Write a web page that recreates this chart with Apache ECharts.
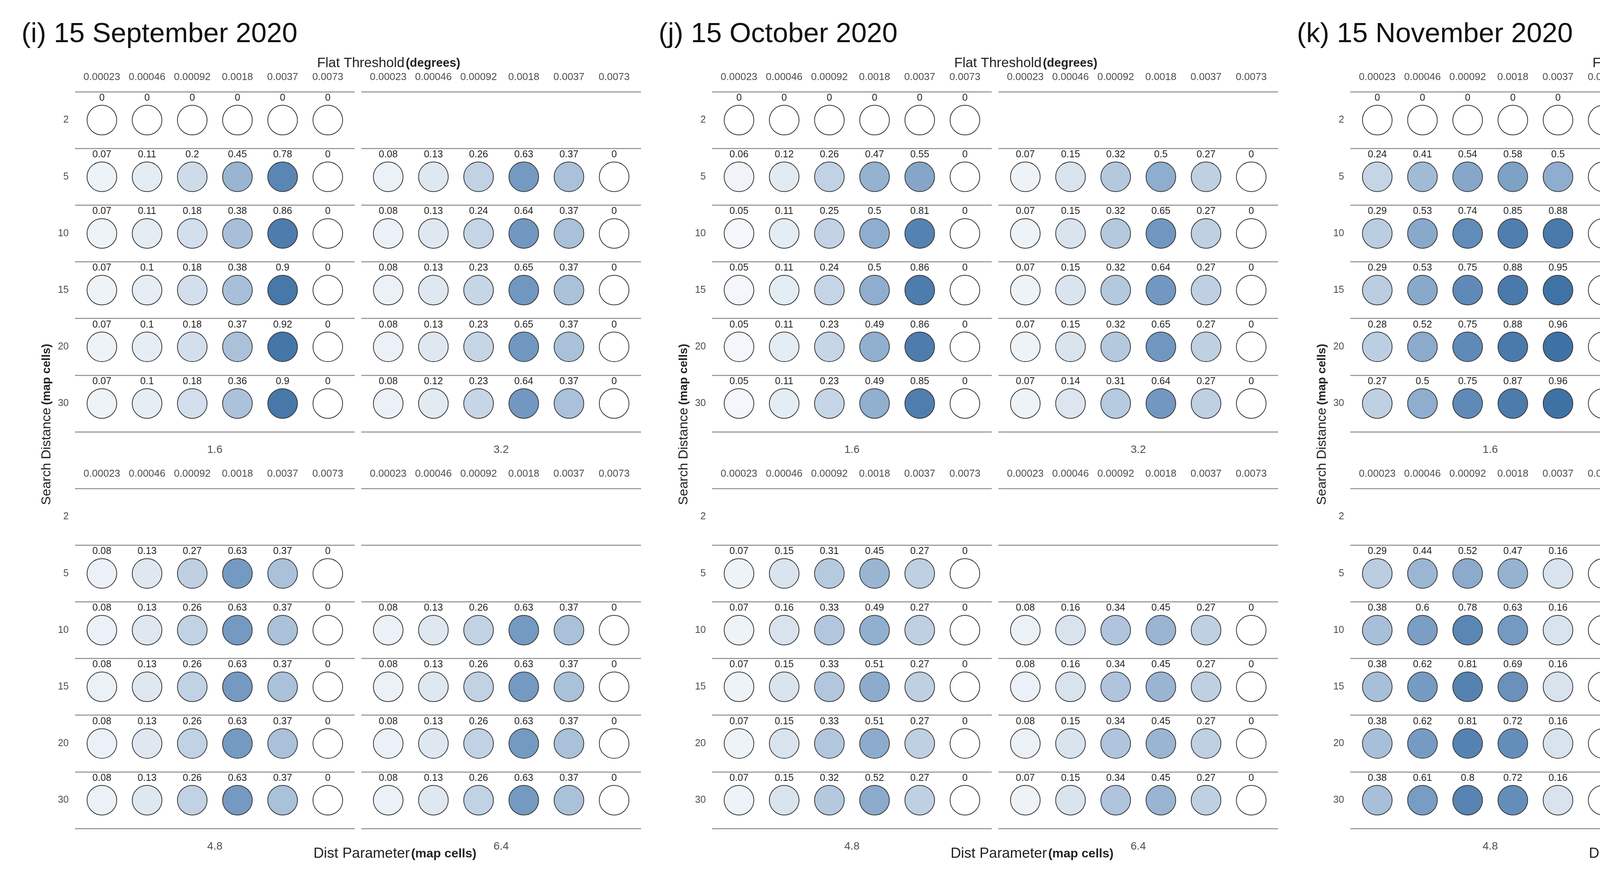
<!DOCTYPE html>
<html>
<head>
<meta charset="utf-8">
<script src="https://cdn.jsdelivr.net/npm/echarts@6/dist/echarts.min.js"></script>
<style>
html,body{margin:0;padding:0;background:#fff;}
#chart{width:5224px;height:2259px;}
</style>
</head>
<body>
<div id="chart"></div>
<script>
// ---------- data ----------
const flatThresholds = ['0.00023', '0.00046', '0.00092', '0.0018', '0.0037', '0.0073'];
const searchDistances = ['2', '5', '10', '15', '20', '30'];
const distParams = ['1.6', '3.2', '4.8', '6.4'];
const panelTitles = ['(i) 15 September 2020', '(j) 15 October 2020', '(k) 15 November 2020'];
const legendTicks = [0, 0.25, 0.5, 0.75, 1.0];

// rows follow searchDistances; null = row not present
const sep16 = [[0,0,0,0,0,0],[0.07,0.11,0.2,0.45,0.78,0],[0.07,0.11,0.18,0.38,0.86,0],[0.07,0.1,0.18,0.38,0.9,0],[0.07,0.1,0.18,0.37,0.92,0],[0.07,0.1,0.18,0.36,0.9,0]];
const sep32 = [null,[0.08,0.13,0.26,0.63,0.37,0],[0.08,0.13,0.24,0.64,0.37,0],[0.08,0.13,0.23,0.65,0.37,0],[0.08,0.13,0.23,0.65,0.37,0],[0.08,0.12,0.23,0.64,0.37,0]];
const sep48 = [null,[0.08,0.13,0.27,0.63,0.37,0],[0.08,0.13,0.26,0.63,0.37,0],[0.08,0.13,0.26,0.63,0.37,0],[0.08,0.13,0.26,0.63,0.37,0],[0.08,0.13,0.26,0.63,0.37,0]];
const sep64 = [null,null,[0.08,0.13,0.26,0.63,0.37,0],[0.08,0.13,0.26,0.63,0.37,0],[0.08,0.13,0.26,0.63,0.37,0],[0.08,0.13,0.26,0.63,0.37,0]];

const oct16 = [[0,0,0,0,0,0],[0.06,0.12,0.26,0.47,0.55,0],[0.05,0.11,0.25,0.5,0.81,0],[0.05,0.11,0.24,0.5,0.86,0],[0.05,0.11,0.23,0.49,0.86,0],[0.05,0.11,0.23,0.49,0.85,0]];
const oct32 = [null,[0.07,0.15,0.32,0.5,0.27,0],[0.07,0.15,0.32,0.65,0.27,0],[0.07,0.15,0.32,0.64,0.27,0],[0.07,0.15,0.32,0.65,0.27,0],[0.07,0.14,0.31,0.64,0.27,0]];
const oct48 = [null,[0.07,0.15,0.31,0.45,0.27,0],[0.07,0.16,0.33,0.49,0.27,0],[0.07,0.15,0.33,0.51,0.27,0],[0.07,0.15,0.33,0.51,0.27,0],[0.07,0.15,0.32,0.52,0.27,0]];
const oct64 = [null,null,[0.08,0.16,0.34,0.45,0.27,0],[0.08,0.16,0.34,0.45,0.27,0],[0.08,0.15,0.34,0.45,0.27,0],[0.07,0.15,0.34,0.45,0.27,0]];

const nov16 = [[0,0,0,0,0,0],[0.24,0.41,0.54,0.58,0.5,0],[0.29,0.53,0.74,0.85,0.88,0],[0.29,0.53,0.75,0.88,0.95,0],[0.28,0.52,0.75,0.88,0.96,0],[0.27,0.5,0.75,0.87,0.96,0]];
const nov32 = [null,[0.29,0.44,0.54,0.53,0.16,0],[0.37,0.6,0.79,0.85,0.16,0],[0.37,0.61,0.81,0.89,0.16,0],[0.37,0.61,0.8,0.9,0.16,0],[0.35,0.6,0.79,0.9,0.16,0]];
const nov48 = [null,[0.29,0.44,0.52,0.47,0.16,0],[0.38,0.6,0.78,0.63,0.16,0],[0.38,0.62,0.81,0.69,0.16,0],[0.38,0.62,0.81,0.72,0.16,0],[0.38,0.61,0.8,0.72,0.16,0]];
const nov64 = [null,null,[0.38,0.6,0.77,0.48,0.16,0],[0.39,0.62,0.81,0.48,0.16,0],[0.39,0.62,0.81,0.48,0.16,0],[0.38,0.62,0.8,0.48,0.16,0]];

const panels = [[sep16, sep32, sep48, sep64], [oct16, oct32, oct48, oct64], [nov16, nov32, nov48, nov64]];

// ---------- styles / layout ----------
const FONT = "'Liberation Sans', Arial, Helvetica, sans-serif";
const SCALE_MAX = 1.1;
const colorRamp = ['#ffffff', '#c9d8e8', '#9bb6d3', '#6e95bf', '#4a7aab', '#2a6398'];
const PANEL_X = [0, 1631, 3265];
const FACET_X = [192, 925];
const FACET_Y = [235, 1251];
const FACET_W = 716, FACET_H = 871, INSET = 11;

const grids = [], xAxes = [], yAxes = [], series = [];

panels.forEach((facets, p) => {
  facets.forEach((rows, f) => {
    const col = f % 2, row = Math.floor(f / 2);
    const left = PANEL_X[p] + FACET_X[col];
    const top = FACET_Y[row];

    // frame grid: separator lines, row labels, strip label
    const gFrame = grids.length;
    grids.push({ left: left, top: top, width: FACET_W, height: FACET_H, containLabel: false, outerBoundsMode: 'none' });
    xAxes.push({
      gridIndex: gFrame, type: 'category', data: flatThresholds, position: 'bottom',
      axisLine: { show: false }, axisTick: { show: false }, axisLabel: { show: false }, splitLine: { show: false },
      name: distParams[f], nameLocation: 'middle', nameGap: 32,
      nameTextStyle: { fontSize: 28, color: '#4d4d4d', fontFamily: FONT }
    });
    yAxes.push({
      gridIndex: gFrame, type: 'category', data: searchDistances, inverse: true,
      axisLine: { show: false }, axisTick: { show: false },
      axisLabel: { show: col === 0, interval: 0, margin: 16, fontSize: 25, color: '#4d4d4d', fontFamily: FONT },
      splitLine: { show: true, interval: 0, showMinLine: true, showMaxLine: true, lineStyle: { color: '#9d9d9d', width: 3 } }
    });

    // data grid
    const gData = grids.length;
    grids.push({ left: left + INSET, top: top, width: FACET_W - 2 * INSET, height: FACET_H, containLabel: false, outerBoundsMode: 'none' });
    xAxes.push({
      gridIndex: gData, type: 'category', data: flatThresholds, position: 'top',
      axisLine: { show: false }, axisTick: { show: false }, splitLine: { show: false },
      axisLabel: { interval: 0, margin: 24, fontSize: 26, color: '#4d4d4d', fontFamily: FONT }
    });
    yAxes.push({ gridIndex: gData, type: 'category', data: searchDistances, inverse: true, show: false });

    const data = [];
    rows.forEach((vals, r) => {
      if (!vals) return;
      vals.forEach((v, c) => data.push([c, r, v]));
    });
    series.push({
      type: 'scatter', xAxisIndex: xAxes.length - 1, yAxisIndex: yAxes.length - 1,
      data: data, symbol: 'circle', symbolSize: 76,
      itemStyle: { borderColor: '#383838', borderWidth: 2, opacity: 1 },
      label: {
        show: true, position: 'top', distance: 5, fontSize: 25, color: '#1f1f1f', fontFamily: FONT,
        formatter: (pr) => String(pr.value[2])
      },
      emphasis: { disabled: true },
      animation: false
    });
  });
});

// ---------- text & legend graphics ----------
const graphics = [];
panelTitles.forEach((t, p) => {
  const px = PANEL_X[p];
  graphics.push({ type: 'text', x: 55 + px, y: 88, style: { text: t, fontSize: 71, fontFamily: FONT, fill: '#111', align: 'left', verticalAlign: 'middle' } });
  graphics.push({ type: 'text', x: 995 + px, y: 162, style: {
    text: '{a|Flat Threshold} {b|(degrees)}', align: 'center', verticalAlign: 'middle', fill: '#222',
    rich: { a: { fontSize: 35, fontFamily: FONT, fill: '#222' }, b: { fontSize: 31, fontWeight: 'bold', fontFamily: FONT, fill: '#222' } } } });
  graphics.push({ type: 'text', x: 1011 + px, y: 2187, style: {
    text: '{a|Dist Parameter} {b|(map cells)}', align: 'center', verticalAlign: 'middle', fill: '#222',
    rich: { a: { fontSize: 37, fontFamily: FONT, fill: '#222' }, b: { fontSize: 32, fontWeight: 'bold', fontFamily: FONT, fill: '#222' } } } });
  graphics.push({ type: 'text', x: 120 + px, y: 1087, rotation: Math.PI / 2, style: {
    text: '{a|Search Distance}  {b|(map cells)}', align: 'center', verticalAlign: 'middle', fill: '#222',
    rich: { a: { fontSize: 34, fontFamily: FONT, fill: '#222' }, b: { fontSize: 30, fontWeight: 'bold', fontFamily: FONT, fill: '#222' } } } });
});

// colour bar
const BAR_ZERO_Y = 1356, BAR_PX_PER_UNIT = 336;
const barTop = BAR_ZERO_Y - SCALE_MAX * BAR_PX_PER_UNIT;
graphics.push({ type: 'text', x: 4977, y: 929, style: { text: 'F1-Score', fontSize: 46, fontFamily: FONT, fill: '#111', align: 'left', verticalAlign: 'middle' } });
graphics.push({ type: 'rect', shape: { x: 4961, y: barTop, width: 76, height: BAR_ZERO_Y - barTop }, style: {
  fill: { type: 'linear', x: 0, y: 0, x2: 0, y2: 1, colorStops: colorRamp.map((c, i) => ({ offset: 1 - i / (colorRamp.length - 1), color: c })) } } });
legendTicks.forEach(v => {
  graphics.push({ type: 'text', x: 5067, y: BAR_ZERO_Y - v * BAR_PX_PER_UNIT, style: { text: v.toFixed(2), fontSize: 34, fontFamily: FONT, fill: '#1a1a1a', align: 'left', verticalAlign: 'middle' } });
});

const option = {
  backgroundColor: '#ffffff',
  animation: false,
  textStyle: { fontFamily: FONT },
  grid: grids,
  xAxis: xAxes,
  yAxis: yAxes,
  visualMap: {
    type: 'continuous', show: false, min: 0, max: SCALE_MAX, dimension: 2,
    seriesIndex: series.map((s, i) => i),
    inRange: { color: colorRamp }
  },
  series: series,
  graphic: graphics
};

const chart = echarts.init(document.getElementById('chart'), null, { renderer: 'canvas' });
chart.setOption(option);
</script>
</body>
</html>
